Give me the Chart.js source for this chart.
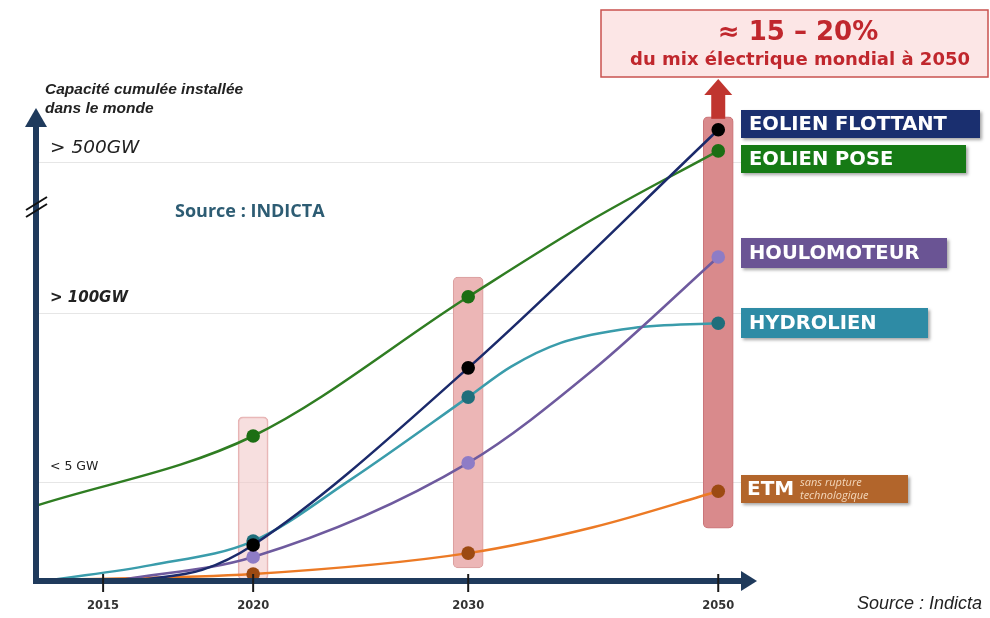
<!DOCTYPE html>
<html><head><meta charset="utf-8">
<script src="https://cdn.jsdelivr.net/npm/chart.js@4"></script>
<style>html,body{margin:0;padding:0;background:#fff}#wrap{width:990px;height:618px;position:relative}</style>
</head><body><div id="wrap"><canvas id="c"></canvas></div>
<script>
// ---- x axis (schematic, non-uniform spacing between years) ----
const axisYears = [2015, 2020, 2030, 2050];
const axisYearLabels = ['2015', '2020', '2030', '2050'];
const axisSlots = [0, 15, 36.5, 61.5];
const xStartYear = 2012.73;
const xEndYear = 2053.1;

// ---- y axis (qualitative levels) ----
const yTickValues = [20.4, 55.6, 86.9];
const yTickLabels = ['< 5 GW', '> 100GW', '> 500GW'];

// ---- series ----
const seriesNames = ['EOLIEN FLOTTANT', 'EOLIEN POSE', 'HOULOMOTEUR', 'HYDROLIEN', 'ETM'];

const flottantYears  = [2016.2, 2018.3, 2020, 2030, 2050];
const flottantValues = [0, 2.1, 7.3, 44.2, 93.8];

const poseYears  = [2012.73, 2020, 2030, 2040, 2050];
const poseValues = [15.4, 30.0, 59.0, 75.2, 89.4];

const houloYears  = [2015.6, 2020, 2030, 2040, 2050];
const houloValues = [0, 4.8, 24.4, 43.8, 67.3];

const hydroYears  = [2013.3, 2016.6, 2020, 2024.5, 2030, 2033.4, 2037.4, 2043.2, 2050];
const hydroValues = [0, 3.1, 8.1, 20.8, 38.1, 44.4, 49.4, 52.5, 53.5];

const etmYears  = [2013.3, 2020, 2030, 2040, 2050];
const etmValues = [0, 1.25, 5.6, 11.0, 18.5];

const markerYears = [2020, 2030, 2050];

// ---- highlighted ranges ----
const bandYears = [2020, 2030, 2050];
const bandLow  = [0, 2.5, 10.8];
const bandHigh = [34.0, 63.1, 96.5];

function yearPos(yr) {
  const n = axisYears.length;
  let i = 0;
  if (yr >= axisYears[n - 2]) i = n - 2;
  else { while (i < n - 2 && yr > axisYears[i + 1]) i++; }
  const t = (yr - axisYears[i]) / (axisYears[i + 1] - axisYears[i]);
  return axisSlots[i] + t * (axisSlots[i + 1] - axisSlots[i]);
}
function pts(years, values) {
  return years.map((yr, i) => ({ x: yearPos(yr), y: values[i], yr: yr }));
}

const styles = [
  { line: '#1B2A6B', dot: '#000000', box: '#1A2F6F' },
  { line: '#2F7D22', dot: '#1C6E14', box: '#167A15' },
  { line: '#6E5A9E', dot: '#8E7CC6', box: '#6A5494' },
  { line: '#3A9CAB', dot: '#1F6E7B', box: '#2E8BA5' },
  { line: '#EC7A25', dot: '#9C4A12', box: '#B2652B' }
];
const seriesData = [
  pts(flottantYears, flottantValues),
  pts(poseYears, poseValues),
  pts(houloYears, houloValues),
  pts(hydroYears, hydroValues),
  pts(etmYears, etmValues)
];

const lineSets = seriesNames.map((name, k) => ({
  type: 'line',
  label: name,
  data: seriesData[k],
  borderColor: styles[k].line,
  borderWidth: 2.5,
  cubicInterpolationMode: 'monotone',
  tension: 0.4,
  pointRadius: ctx => (ctx.raw && markerYears.includes(ctx.raw.yr)) ? 6.8 : 0,
  pointBackgroundColor: styles[k].dot,
  pointBorderColor: styles[k].dot,
  pointBorderWidth: 0,
  order: 1
}));

const bandSet = {
  type: 'bar',
  label: 'bands',
  data: bandYears.map((yr, i) => ({ x: yearPos(yr), y: [bandLow[i], bandHigh[i]] })),
  backgroundColor: ['rgba(240,196,196,0.55)', '#ECB6B6', '#D98A8C'],
  borderColor: ['#E6B3B3', '#D99C9C', '#C97478'],
  borderWidth: 1,
  borderRadius: 5,
  borderSkipped: false,
  barThickness: 30,
  order: 10
};

const deco = {
  id: 'deco',
  afterDatasetsDraw(chart) {
    const { ctx, chartArea: a, scales: { x } } = chart;
    const navy = '#1F3A5C';
    ctx.save();
    const ax = a.left + 1, ay = a.bottom + 1;
    ctx.fillStyle = navy;
    ctx.fillRect(ax - 3, ay - 3, (a.right - 14) - (ax - 3), 6);
    ctx.beginPath();
    ctx.moveTo(a.right, ay);
    ctx.lineTo(a.right - 16, ay - 10);
    ctx.lineTo(a.right - 16, ay + 10);
    ctx.closePath(); ctx.fill();
    ctx.fillRect(ax - 3, 125, 6, ay + 3 - 125);
    ctx.beginPath();
    ctx.moveTo(ax, 108);
    ctx.lineTo(ax - 11, 127);
    ctx.lineTo(ax + 11, 127);
    ctx.closePath(); ctx.fill();
    ctx.strokeStyle = '#1a1a1a'; ctx.lineWidth = 2;
    x.ticks.forEach(t => {
      const px = x.getPixelForValue(t.value);
      ctx.beginPath(); ctx.moveTo(px, ay - 7); ctx.lineTo(px, ay + 11); ctx.stroke();
    });
    ctx.strokeStyle = '#111'; ctx.lineWidth = 2;
    ctx.beginPath(); ctx.moveTo(ax - 10, 210); ctx.lineTo(ax + 11, 197); ctx.stroke();
    ctx.beginPath(); ctx.moveTo(ax - 10, 217); ctx.lineTo(ax + 11, 204); ctx.stroke();
    ctx.restore();
  },
  afterDraw(chart) {
    const { ctx, scales: { x, y } } = chart;
    ctx.save();
    ctx.fillStyle = '#222';
    ctx.font = 'italic bold 15.5px "Liberation Sans", Arial, sans-serif';
    ctx.textBaseline = 'middle'; ctx.textAlign = 'left';
    ctx.fillText('Capacité cumulée installée', 45, 90);
    ctx.fillText('dans le monde', 45, 109);
    ctx.fillStyle = '#2D5C73';
    ctx.font = 'bold 18px "Open Sans", sans-serif';
    ctx.fillText('Source : INDICTA', 175, 212);
    ctx.fillStyle = '#222';
    ctx.font = 'italic 18px "Liberation Sans", Arial, sans-serif';
    ctx.textAlign = 'right';
    ctx.fillText('Source : Indicta', 982, 604);

    const cx = x.getPixelForValue(yearPos(bandYears[2]));
    const bt = y.getPixelForValue(bandHigh[2]) + 2;
    ctx.fillStyle = '#C0352F';
    ctx.fillRect(cx - 7, 94, 14, bt - 94);
    ctx.beginPath();
    ctx.moveTo(cx, 79); ctx.lineTo(cx - 14, 95); ctx.lineTo(cx + 14, 95);
    ctx.closePath(); ctx.fill();

    ctx.fillStyle = '#FCE6E6';
    ctx.fillRect(601, 10, 387, 67);
    ctx.strokeStyle = '#C9524F'; ctx.lineWidth = 1.5;
    ctx.strokeRect(601, 10, 387, 67);
    ctx.fillStyle = '#C0272D';
    ctx.textAlign = 'center';
    ctx.font = 'bold 26px "DejaVu Sans", sans-serif';
    ctx.fillText('≈ 15 – 20%', 798, 33);
    ctx.font = 'bold 18px "DejaVu Sans", sans-serif';
    ctx.fillText('du mix électrique mondial à 2050', 800, 60);

    const boxes = [
      [110, 28, 239], [145, 28, 225], [238, 30, 206], [308, 30, 187], [475, 28, 167]
    ];
    ctx.textAlign = 'left';
    boxes.forEach((b, k) => {
      ctx.save();
      ctx.shadowColor = 'rgba(0,0,0,0.35)'; ctx.shadowBlur = 3; ctx.shadowOffsetX = 2; ctx.shadowOffsetY = 2;
      ctx.fillStyle = styles[k].box;
      ctx.fillRect(741, b[0], b[2], b[1]);
      ctx.restore();
      ctx.fillStyle = '#fff';
      if (k === 4) {
        ctx.font = 'bold 20px "DejaVu Sans", sans-serif';
        ctx.fillText(seriesNames[k], 747, b[0] + b[1] / 2 + 1);
        ctx.fillStyle = '#F4D8BC';
        ctx.font = 'italic 11px "Open Sans", sans-serif';
        ctx.fillText('sans rupture', 800, b[0] + 8);
        ctx.fillText('technologique', 800, b[0] + 21);
      } else {
        ctx.font = 'bold 19.5px "DejaVu Sans", sans-serif';
        ctx.fillText(seriesNames[k], 749, b[0] + b[1] / 2 + 1);
      }
    });
    ctx.restore();
  }
};

const yFonts = [
  { family: '"DejaVu Sans", sans-serif', size: 12.5, style: 'normal', weight: 'normal' },
  { family: '"DejaVu Sans", sans-serif', size: 15, style: 'italic', weight: 'bold' },
  { family: '"DejaVu Sans", sans-serif', size: 18.5, style: 'italic', weight: 'normal' }
];

new Chart(document.getElementById('c'), {
  type: 'line',
  data: { datasets: [bandSet].concat(lineSets) },
  plugins: [deco],
  options: {
    responsive: true,
    maintainAspectRatio: false,
    animation: false,
    layout: { padding: { left: 35, right: 233, top: 100, bottom: 0 } },
    plugins: { legend: { display: false }, tooltip: { enabled: false } },
    scales: {
      x: {
        type: 'linear',
        offset: false,
        min: yearPos(xStartYear),
        max: yearPos(xEndYear),
        grid: { display: false, drawTicks: false },
        border: { display: false },
        afterBuildTicks: s => { s.ticks = axisYears.map(yr => ({ value: yearPos(yr) })); },
        afterFit: s => { s.height = 38; },
        ticks: {
          padding: 19,
          maxRotation: 0,
          autoSkip: false,
          color: '#333',
          font: { family: '"DejaVu Sans", sans-serif', size: 11.5, weight: 'bold' },
          callback: (v, i) => axisYearLabels[i]
        }
      },
      y: {
        type: 'linear',
        min: 0,
        max: 100,
        grid: { color: '#E6E6E6', lineWidth: 1, drawTicks: false },
        border: { display: false },
        afterBuildTicks: s => { s.ticks = yTickValues.map(v => ({ value: v })); },
        afterFit: s => { s.width = 0; },
        ticks: {
          mirror: true,
          padding: 15,
          labelOffset: -15,
          color: '#222',
          font: ctx => yFonts[ctx.index] || yFonts[0],
          callback: (v, i) => yTickLabels[i]
        }
      }
    }
  }
});
</script>
</body></html>
